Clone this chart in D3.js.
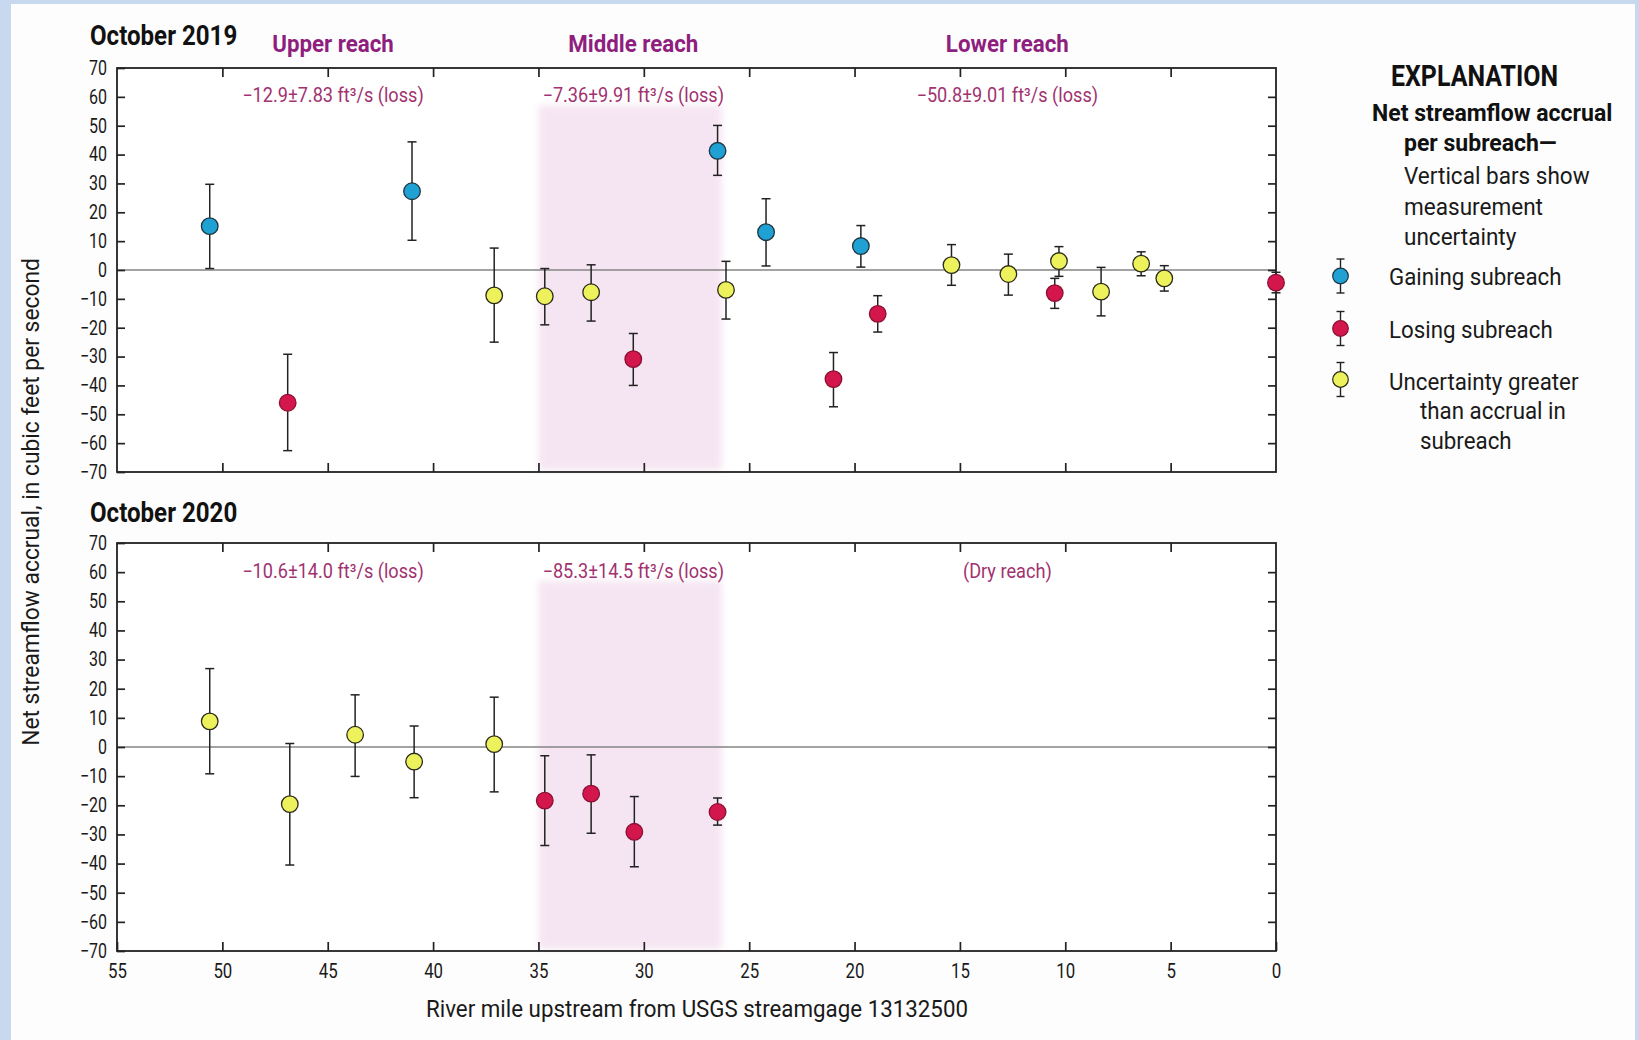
<!DOCTYPE html>
<html>
<head>
<meta charset="utf-8">
<script src="https://cdn.jsdelivr.net/npm/d3@7"></script>
<style>
  html, body { margin: 0; padding: 0; background: #c8d8ee; }
  svg { display: block; }
  text { font-family: Roboto, "Liberation Sans", "DejaVu Sans", sans-serif; }
</style>
</head>
<body>
<svg id="chart" width="1639" height="1040"></svg>
<script>
// ---------------- DATA ----------------
// October 2019
const miles2019 = [50.6, 46.9, 41.0, 37.1, 34.7, 32.5, 30.5, 26.5, 26.1, 24.2, 21.0, 19.7, 18.9, 15.4, 12.7, 10.5, 10.3, 8.3, 6.4, 5.3, 0];
const value2019 = [15.2, -46.0, 27.3, -8.8, -9.1, -7.7, -30.9, 41.3, -6.9, 13.1, -37.8, 8.3, -15.2, 1.7, -1.4, -8.0, 3.1, -7.5, 2.2, -2.9, -4.4];
const high2019  = [29.7, -29.2, 44.4, 7.6, 0.5, 1.8, -22.0, 50.1, 3.0, 24.7, -28.6, 15.4, -8.9, 8.8, 5.5, -2.9, 8.1, 0.9, 6.3, 1.5, -0.8];
const low2019   = [0.5, -62.6, 10.3, -25.0, -19.0, -17.7, -40.0, 32.8, -17.0, 1.4, -47.4, 1.0, -21.5, -5.3, -8.7, -13.3, -2.2, -15.9, -2.0, -7.3, -7.9];
const type2019  = ["gain","lose","gain","unc","unc","unc","lose","gain","unc","gain","lose","gain","lose","unc","unc","lose","unc","unc","unc","unc","lose"];
// October 2020
const miles2020 = [50.6, 46.8, 43.7, 40.9, 37.1, 34.7, 32.5, 30.45, 26.5];
const value2020 = [8.8, -19.6, 4.2, -5.0, 1.0, -18.4, -16.0, -29.1, -22.3];
const high2020  = [26.9, 1.2, 17.9, 7.2, 17.1, -3.0, -2.7, -17.0, -17.5];
const low2020   = [-9.2, -40.5, -10.1, -17.4, -15.4, -33.8, -29.6, -41.1, -26.8];
const type2020  = ["unc","unc","unc","unc","unc","lose","lose","lose","lose"];

const panelTitles = ["October 2019", "October 2020"];
const reachNames = ["Upper reach", "Middle reach", "Lower reach"];
const reachLabelMiles = [44.75, 30.5, 12.75];
const reachNotes2019 = ["\u221212.9\u00b17.83 ft\u00b3/s (loss)", "\u22127.36\u00b19.91 ft\u00b3/s (loss)", "\u221250.8\u00b19.01 ft\u00b3/s (loss)"];
const reachNotes2020 = ["\u221210.6\u00b114.0 ft\u00b3/s (loss)", "\u221285.3\u00b114.5 ft\u00b3/s (loss)", "(Dry reach)"];
const middleReachBand = [35, 26.3];
const xTicks = [55, 50, 45, 40, 35, 30, 25, 20, 15, 10, 5, 0];
const yTicks = [70, 60, 50, 40, 30, 20, 10, 0, -10, -20, -30, -40, -50, -60, -70];
const xTitle = "River mile upstream from USGS streamgage 13132500";
const yTitle = "Net streamflow accrual, in cubic feet per second";
const legendTitle = "EXPLANATION";
const legendHead = ["Net streamflow accrual", "per subreach\u2014"];
const legendNote = ["Vertical bars show", "measurement", "uncertainty"];
const legendKeys = ["gain", "lose", "unc"];
const legendItems = [["Gaining subreach"], ["Losing subreach"], ["Uncertainty greater", "than accrual in", "subreach"]];

// ---------------- STYLE ----------------
const colors = { gain: "#1fa1d3", lose: "#d3164b", unc: "#edf15c" };
const strokes = { gain: "#1f3440", lose: "#8a1033", unc: "#2a2a1a" };
const purple = "#8f1f7e";
const notePurple = "#a1326f";

function condense(sel, k) {
  sel.each(function () {
    const L = this.getComputedTextLength();
    this.setAttribute("textLength", (L * k).toFixed(1));
    this.setAttribute("lengthAdjust", "spacingAndGlyphs");
  });
}

const svg = d3.select("#chart");
svg.append("rect").attr("x", 0).attr("y", 0).attr("width", 1639).attr("height", 1040).attr("fill", "#c8d8ee");
svg.append("rect").attr("x", 11).attr("y", 4).attr("width", 1624).attr("height", 1036).attr("fill", "#fdfdfd");

const defs = svg.append("defs");
defs.append("filter").attr("id", "soft").attr("x", "-10%").attr("y", "-10%").attr("width", "120%").attr("height", "120%")
  .append("feGaussianBlur").attr("stdDeviation", 3.5);

const x = d3.scaleLinear().domain([55, 0]).range([117, 1276]);

const panels = [
  { top: 68, bottom: 472, title: panelTitles[0], titleY: 44, notes: reachNotes2019, noteY: 101.5,
    miles: miles2019, value: value2019, high: high2019, low: low2019, type: type2019 },
  { top: 543, bottom: 951, title: panelTitles[1], titleY: 521, notes: reachNotes2020, noteY: 578,
    miles: miles2020, value: value2020, high: high2020, low: low2020, type: type2020 }
];

panels.forEach((p, pi) => {
  const y = d3.scaleLinear().domain([-70, 70]).range([p.bottom, p.top]);
  const g = svg.append("g");

  g.append("rect").attr("x", x(55)).attr("y", p.top).attr("width", x(0) - x(55)).attr("height", p.bottom - p.top).attr("fill", "#ffffff");

  // middle reach shading
  g.append("rect")
    .attr("x", x(middleReachBand[0])).attr("width", x(middleReachBand[1]) - x(middleReachBand[0]))
    .attr("y", y(57)).attr("height", y(-70) - y(57) - 2)
    .attr("fill", "#f5e5f2").attr("filter", "url(#soft)");

  // zero line
  g.append("line").attr("x1", x(55)).attr("x2", x(0)).attr("y1", y(0)).attr("y2", y(0))
    .attr("stroke", "#858585").attr("stroke-width", 1.7);

  // axes (ticks pointing inward)
  const inner = xTicks.filter(d => d !== 55 && d !== 0);
  const axTop = g.append("g").attr("transform", `translate(0,${p.top})`)
    .call(d3.axisTop(x).tickValues(inner).tickSize(-9).tickFormat(""));
  const axBot = g.append("g").attr("transform", `translate(0,${p.bottom})`)
    .call(d3.axisBottom(x).tickValues(pi === 1 ? xTicks : inner).tickSize(-9).tickPadding(12).tickFormat(d3.format("d")));
  const axL = g.append("g").attr("transform", `translate(${x(55)},0)`)
    .call(d3.axisLeft(y).tickValues(yTicks).tickSize(-8).tickPadding(10).tickFormat(d3.format("d")));
  const axR = g.append("g").attr("transform", `translate(${x(0)},0)`)
    .call(d3.axisRight(y).tickValues(yTicks.filter(d => d !== 70 && d !== -70)).tickSize(-8).tickFormat(""));
  [axTop, axBot, axL, axR].forEach(a => {
    a.select(".domain").remove();
    a.selectAll(".tick line").attr("stroke", "#222").attr("stroke-width", 1.7);
  });
  if (pi === 0) axBot.selectAll(".tick text").remove();
  axL.selectAll(".tick text").attr("font-size", 20).attr("fill", "#1a1a1a").attr("font-family", "Roboto, sans-serif");
  condense(axL.selectAll(".tick text"), 0.8);
  axBot.selectAll(".tick text").attr("font-size", 21).attr("fill", "#1a1a1a").attr("font-family", "Roboto, sans-serif");
  condense(axBot.selectAll(".tick text"), 0.8);

  // frame
  g.append("rect").attr("x", x(55)).attr("y", p.top).attr("width", x(0) - x(55)).attr("height", p.bottom - p.top)
    .attr("fill", "none").attr("stroke", "#222").attr("stroke-width", 1.8);

  // panel title
  const t = g.append("text").attr("x", 90).attr("y", p.titleY + 1).attr("font-size", 28).attr("font-weight", 700)
    .attr("fill", "#111").text(p.title);
  condense(t, 0.86);

  // reach notes
  const notes = g.selectAll("text.note").data(p.notes).join("text").attr("class", "note")
    .attr("x", (d, i) => x(reachLabelMiles[i])).attr("y", p.noteY).attr("text-anchor", "middle")
    .attr("font-size", 19.5).attr("fill", notePurple).text(d => d);
  condense(notes, 0.93);

  // error bars + points
  const data = p.miles.map((m, i) => ({ m, v: p.value[i], hi: p.high[i], lo: p.low[i], t: p.type[i] }));
  const eb = g.append("g").selectAll("g").data(data).join("g");
  eb.append("line").attr("x1", d => x(d.m)).attr("x2", d => x(d.m)).attr("y1", d => y(d.hi)).attr("y2", d => y(d.lo))
    .attr("stroke", "#222").attr("stroke-width", 1.5);
  eb.append("line").attr("x1", d => x(d.m) - 4.5).attr("x2", d => x(d.m) + 4.5).attr("y1", d => y(d.hi)).attr("y2", d => y(d.hi))
    .attr("stroke", "#222").attr("stroke-width", 1.5);
  eb.append("line").attr("x1", d => x(d.m) - 4.5).attr("x2", d => x(d.m) + 4.5).attr("y1", d => y(d.lo)).attr("y2", d => y(d.lo))
    .attr("stroke", "#222").attr("stroke-width", 1.5);
  eb.append("circle").attr("cx", d => x(d.m)).attr("cy", d => y(d.v)).attr("r", 8.3)
    .attr("fill", d => colors[d.t]).attr("stroke", d => strokes[d.t]).attr("stroke-width", 1.3);
});

// reach headers (above top panel)
const heads = svg.selectAll("text.reach").data(reachNames).join("text").attr("class", "reach")
  .attr("x", (d, i) => x(reachLabelMiles[i])).attr("y", 52).attr("text-anchor", "middle")
  .attr("font-size", 23).attr("font-weight", 700).attr("fill", purple).text(d => d);
condense(heads, 0.97);

// axis titles
const xt = svg.append("text").attr("x", 697).attr("y", 1017).attr("text-anchor", "middle")
  .attr("font-size", 24).attr("fill", "#1a1a1a").text(xTitle);
condense(xt, 0.93);
const yt = svg.append("text").attr("transform", "translate(39,502) rotate(-90)").attr("text-anchor", "middle")
  .attr("font-size", 23.5).attr("fill", "#1a1a1a").text(yTitle);
condense(yt, 0.97);

// ---------------- LEGEND ----------------
const lg = svg.append("g");
const lt = lg.append("text").attr("x", 1391).attr("y", 86).attr("font-size", 29).attr("font-weight", 700).attr("fill", "#111").text(legendTitle);
condense(lt, 0.86);
const lh = lg.selectAll("text.lh").data(legendHead).join("text").attr("class", "lh")
  .attr("x", (d, i) => i === 0 ? 1372 : 1404).attr("y", (d, i) => 121 + i * 30)
  .attr("font-size", 23).attr("font-weight", 700).attr("fill", "#111").text(d => d);
condense(lh, 1.0);
const ln = lg.selectAll("text.ln").data(legendNote).join("text").attr("class", "ln")
  .attr("x", 1404).attr("y", (d, i) => 184 + i * 30.5)
  .attr("font-size", 23).attr("fill", "#1a1a1a").text(d => d);
condense(ln, 0.98);

const itemY = [276, 328.5, 379.5];
const itemBase = [284.5, 337.5, 389.5];
legendItems.forEach((lines, i) => {
  const cy = itemY[i], cx = 1340.5;
  const sg = lg.append("g");
  sg.append("line").attr("x1", cx).attr("x2", cx).attr("y1", cy - 17).attr("y2", cy + 17).attr("stroke", "#222").attr("stroke-width", 1.4);
  sg.append("line").attr("x1", cx - 4).attr("x2", cx + 4).attr("y1", cy - 17).attr("y2", cy - 17).attr("stroke", "#222").attr("stroke-width", 1.4);
  sg.append("line").attr("x1", cx - 4).attr("x2", cx + 4).attr("y1", cy + 17).attr("y2", cy + 17).attr("stroke", "#222").attr("stroke-width", 1.4);
  sg.append("circle").attr("cx", cx).attr("cy", cy).attr("r", 7.8).attr("fill", colors[legendKeys[i]])
    .attr("stroke", strokes[legendKeys[i]]).attr("stroke-width", 1.2);
  const tx = lg.selectAll(null).data(lines).join("text")
    .attr("x", (d, j) => j === 0 ? 1389 : 1420)
    .attr("y", (d, j) => itemBase[i] + j * 29.5)
    .attr("font-size", 23).attr("fill", "#1a1a1a").text(d => d);
  condense(tx, 0.97);
});
</script>
</body>
</html>
